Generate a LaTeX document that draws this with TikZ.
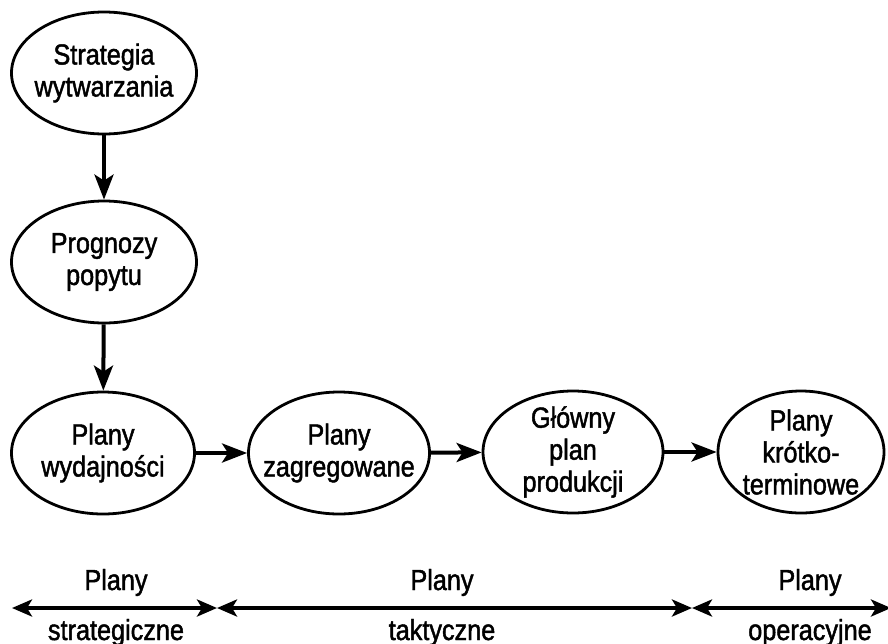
\documentclass[tikz,border=0pt]{standalone}
\usepackage{fontspec}
\setmainfont[FakeStretch=0.87,FakeBold=1.5]{Liberation Sans}
\usetikzlibrary{shapes.geometric,arrows.meta}
\begin{document}
\begin{tikzpicture}[x=1pt,y=-1pt,
  plan/.style={ellipse,draw,line width=2.8pt,inner sep=-40pt,align=center,
    minimum height=122pt,font=\fontsize{29}{32}\selectfont},
  flow/.style={line width=4pt,-{Stealth[length=25pt,width=19pt,inset=6pt]}},
  span/.style={line width=4pt,{Stealth[length=20pt,width=17pt,inset=5pt]}-{Stealth[length=20pt,width=17pt,inset=5pt]}},
  lbl/.style={anchor=base,inner sep=0pt,font=\fontsize{29}{32}\selectfont}]
\useasboundingbox (0,0) rectangle (888,643);

% planning chain
\node[plan,minimum width=185pt] (strat) at (104,73) {Strategia\\wytwarzania};
\node[plan,minimum width=185pt] (prog)  at (104,262) {Prognozy\\popytu};
\node[plan,minimum width=183pt] (wyd)   at (103,453) {Plany\\wydajności};
\node[plan,minimum width=181pt] (zagr)  at (339,453) {Plany\\zagregowane};
\node[plan,minimum width=180pt] (mps)   at (573,452) {Główny\\plan\\produkcji};
\node[plan,minimum width=166pt] (krot)  at (801,452) {Plany\\krótko-\\terminowe};

\draw[flow] (strat) -- (prog);
\draw[flow] (prog) -- (wyd);
\draw[flow] (wyd) -- (zagr);
\draw[flow] (zagr) -- (mps);
\draw[flow] (mps) -- (krot);

% planning horizons
\coordinate (h0) at (12,608);
\coordinate (h1) at (217,608);
\coordinate (h2) at (692,608);
\coordinate (h3) at (891,608);
\draw[span] (h0) -- (h1);
\draw[span] (h1) -- (h2);
\draw[span] (h2) -- (h3);

\node[lbl] (t1) at (116,590) {Plany};
\node[lbl] (b1) at (116,640) {strategiczne};
\node[lbl] (t2) at (442,590) {Plany};
\node[lbl] (b2) at (442,640) {taktyczne};
\node[lbl] (t3) at (810,590) {Plany};
\node[lbl] (b3) at (810,640) {operacyjne};
\end{tikzpicture}
\end{document}
